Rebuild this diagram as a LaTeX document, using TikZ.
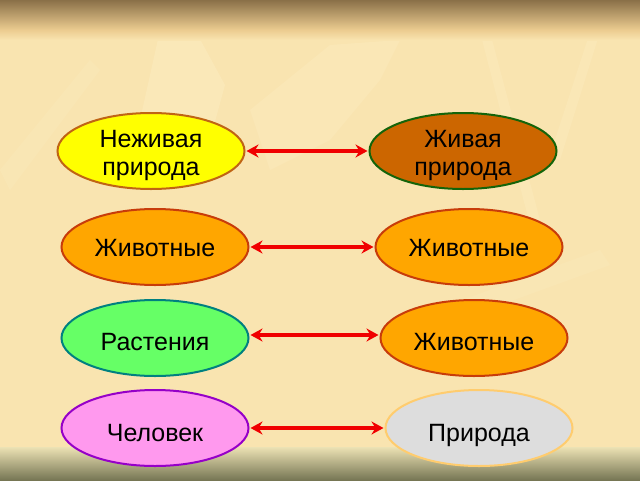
\documentclass[tikz,border=0pt]{standalone}
\usepackage{fontspec}
\setmainfont{Liberation Sans}
\usetikzlibrary{shapes.geometric,arrows.meta}
\definecolor{bgmain}{RGB}{249,228,176}
\definecolor{bgtop}{RGB}{138,112,72}
\definecolor{bgtopl}{RGB}{236,204,144}
\definecolor{bgbot}{RGB}{118,118,84}
\definecolor{bgbotl}{RGB}{236,226,180}
\definecolor{leaf}{RGB}{252,236,192}
\definecolor{yel}{RGB}{255,255,0}
\definecolor{yelb}{RGB}{192,100,20}
\definecolor{brn}{RGB}{204,102,0}
\definecolor{grnb}{RGB}{20,100,10}
\definecolor{org}{RGB}{255,166,0}
\definecolor{orgb}{RGB}{200,60,10}
\definecolor{lgrn}{RGB}{102,255,102}
\definecolor{teal}{RGB}{0,128,128}
\definecolor{pink}{RGB}{255,153,238}
\definecolor{purp}{RGB}{150,0,200}
\definecolor{lgray}{RGB}{221,221,221}
\definecolor{lorg}{RGB}{255,204,110}
\definecolor{arr}{RGB}{240,0,0}
\tikzset{
  oval/.style={ellipse, minimum width=187pt, minimum height=76pt, line width=2pt, inner sep=0pt},
  lbl/.style={font=\fontsize{25}{28}\selectfont, align=center, inner sep=0pt},
  one/.style={lbl, text height=18pt, text depth=0pt},
  link/.style={draw=arr, line width=3.6pt, {Stealth[length=12pt,width=13pt]}-{Stealth[length=12pt,width=13pt]}, shorten <=1pt, shorten >=1pt}
}
\begin{document}
\begin{tikzpicture}[x=1pt,y=-1pt]
\useasboundingbox (0,0) rectangle (640,480);
\fill[bgmain] (0,0) rectangle (640,480);
% faint leaf shapes
\fill[leaf,opacity=0.5] (160,30) -- (195,30) -- (225,85) -- (210,140) -- (170,170) -- (140,120) -- cycle;
\fill[leaf,opacity=0.4] (250,110) -- (330,45) -- (400,40) -- (380,80) -- (330,140) -- (270,170) -- cycle;
\fill[leaf,opacity=0.4] (480,32) -- (490,32) -- (540,220) -- (530,225) -- cycle;
\fill[leaf,opacity=0.4] (590,32) -- (600,32) -- (560,160) -- (550,155) -- cycle;
\fill[leaf,opacity=0.3] (0,170) -- (90,60) -- (100,70) -- (10,190) -- cycle;
\fill[leaf,opacity=0.3] (380,330) -- (600,250) -- (610,265) -- (390,345) -- cycle;
% top band
\shade[top color=bgtop, bottom color=bgtopl] (0,0) rectangle (640,30);
\shade[top color=bgtopl, bottom color=bgmain] (0,30) rectangle (640,40);
% bottom band
\shade[top color=bgbotl, bottom color=bgbot] (0,447) rectangle (640,480);

\node[oval, fill=yel, draw=yelb] (a1) at (151,151) {};
\node[oval, fill=brn, draw=grnb] (b1) at (463,151) {};
\node[oval, fill=org, draw=orgb] (a2) at (155,247) {};
\node[oval, fill=org, draw=orgb] (b2) at (469,247) {};
\node[oval, fill=lgrn, draw=teal] (a3) at (155,338) {};
\node[oval, fill=org, draw=orgb] (b3) at (474,338) {};
\node[oval, fill=pink, draw=purp] (a4) at (155,428) {};
\node[oval, fill=lgray, draw=lorg] (b4) at (479,428) {};

\node[lbl] (ta1) at ([yshift=-4.5pt]a1.center) {Неживая\\природа};
\node[lbl] (tb1) at ([yshift=-4.5pt]b1.center) {Живая\\природа};
\node[one] (ta2) at ([yshift=-0.5pt]a2.center) {Животные};
\node[one] (tb2) at ([yshift=-0.5pt]b2.center) {Животные};
\node[one] (ta3) at ([yshift=-3pt]a3.center) {Растения};
\node[one] (tb3) at ([yshift=-3pt]b3.center) {Животные};
\node[one] (ta4) at ([yshift=-4pt]a4.center) {Человек};
\node[one] (tb4) at ([yshift=-4pt]b4.center) {Природа};

\draw[link] (a1.east) -- (b1.west);
\draw[link] (a2.east) -- (b2.west);
\draw[link] ([yshift=3pt]a3.east) -- ([yshift=3pt]b3.west);
\draw[link] (a4.east) -- (b4.west);
\end{tikzpicture}
\end{document}
